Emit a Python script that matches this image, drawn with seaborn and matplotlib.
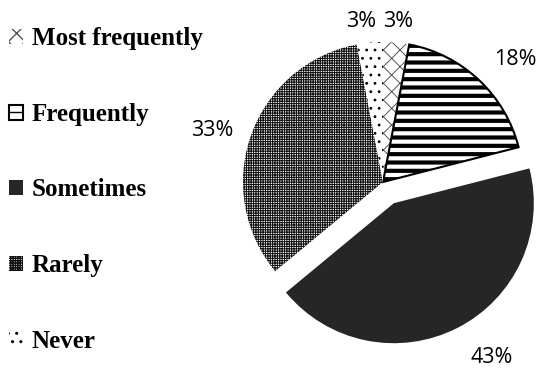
import numpy as np
import pandas as pd
import matplotlib
matplotlib.use("Agg")
import matplotlib.pyplot as plt
import seaborn as sns

# ---- data ----
categories = ["Most frequently", "Frequently", "Sometimes", "Rarely", "Never"]
values = [3, 18, 43, 33, 3]
pct_labels = ["3%", "18%", "43%", "33%", "3%"]

sns.set_theme(style="white")
plt.rcParams["font.family"] = ["DejaVu Sans"]

df = pd.DataFrame({"category": categories, "value": values, "label": pct_labels})

W, H = 540, 370
fig = plt.figure(figsize=(W / 100, H / 100), dpi=100)
ax = fig.add_axes([0, 0, 1, 1])
cx, cy, R = 383, H - 182, 140

styles = [
    dict(fc="white", ec="#555555", hatch="xx", lw=0, hlw=0.7),        # Most frequently
    dict(fc="white", ec="black", hatch="--", lw=1.5, hlw=3.0),        # Frequently
    dict(fc="#262626", ec="#262626", hatch=None, lw=0, hlw=1.0),      # Sometimes
    dict(fc="white", ec="#111111", hatch="+++++++", lw=0, hlw=0.75),  # Rarely
    dict(fc="white", ec="black", hatch="..", lw=0, hlw=0.8),          # Never
]
explode_frac = [0, 0, 0.17, 0, 0]
label_dist = [1.17, 1.30, 1.29, 1.28, 1.175]
label_shift_deg = [0, -3.4, 5.8, 2.3, 2.3]

wedges, _ = ax.pie(df["value"], startangle=90, counterclock=False, radius=R,
                   center=(cx, cy), explode=[e * R for e in explode_frac])

for w, st in zip(wedges, styles):
    w.set_facecolor(st["fc"])
    w.set_edgecolor(st["ec"])
    w.set_linewidth(st["lw"])
    if st["hatch"]:
        w.set_hatch(st["hatch"])
    if hasattr(w, "set_hatch_linewidth"):
        w.set_hatch_linewidth(st["hlw"])

for w, lab, d, sh in zip(wedges, df["label"], label_dist, label_shift_deg):
    th = np.deg2rad((w.theta1 + w.theta2) / 2 + sh)
    x0, y0 = w.center
    ax.text(x0 + d * R * np.cos(th), y0 + d * R * np.sin(th) - 7.7, lab,
            ha="center", va="baseline", fontsize=15.5, family="Open Sans",
            color="black")

leg = ax.legend(wedges, categories, loc="center left",
                bbox_to_anchor=(9 / W, 1 - 190 / H), bbox_transform=fig.transFigure,
                frameon=False,
                prop=dict(family="Liberation Serif", weight="bold", size=18),
                handlelength=0.55, handleheight=0.55, handletextpad=0.35,
                labelspacing=2.1, borderpad=0, borderaxespad=0)
for t in leg.get_texts():
    t.set_color("black")

ax.set_xlim(0, W)
ax.set_ylim(0, H)
ax.set_aspect("equal")
ax.axis("off")

fig.savefig("out.png", dpi=100, facecolor="white")
